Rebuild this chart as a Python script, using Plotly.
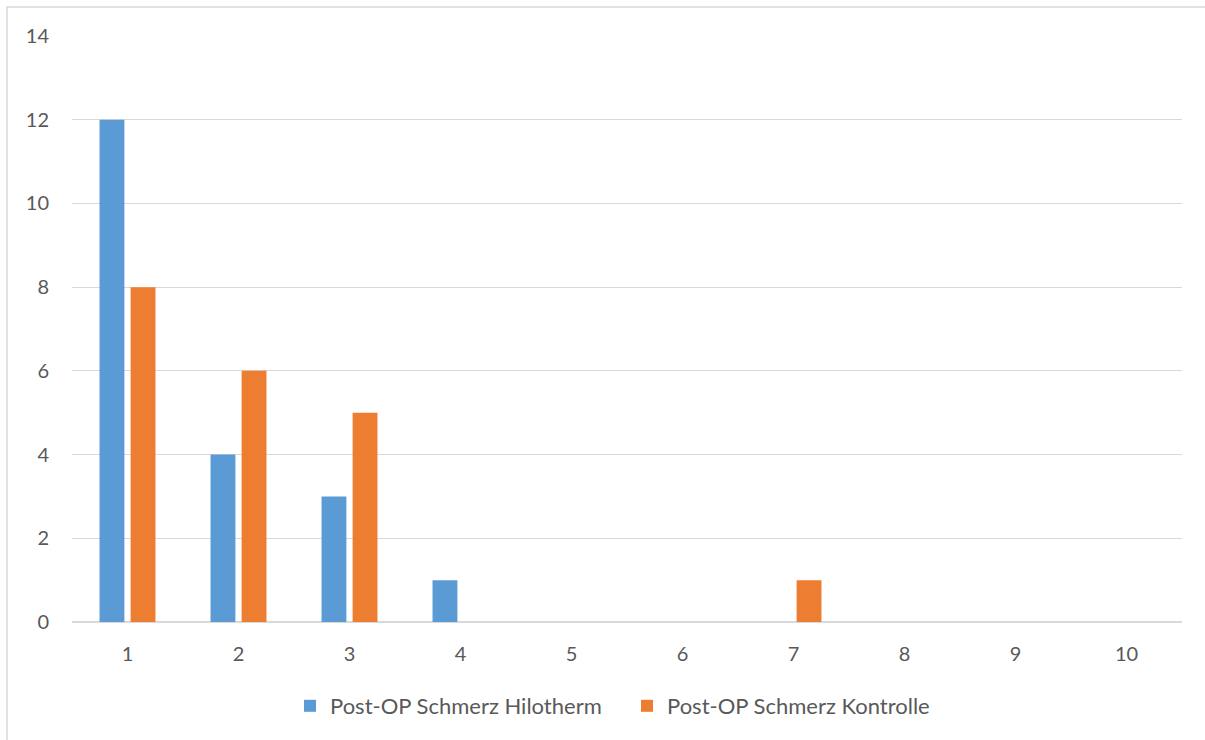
import plotly.graph_objects as go

# Pain score categories and counts per group
categories = ["1", "2", "3", "4", "5", "6", "7", "8", "9", "10"]
hilotherm = [12, 4, 3, 1, 0, 0, 0, 0, 0, 0]
kontrolle = [8, 6, 5, 0, 0, 0, 1, 0, 0, 0]
y_ticks = [0, 2, 4, 6, 8, 10, 12, 14]

BLUE = "#5B9BD5"
ORANGE = "#ED7D31"
TEXT = "#595959"
GRID = "#D9D9D9"
FONT = "Lato, Open Sans, sans-serif"
FS = 20

fig = go.Figure()
fig.add_trace(go.Bar(
    x=categories, y=hilotherm, name="Post-OP Schmerz Hilotherm",
    marker=dict(color=BLUE, line=dict(width=0)),
))
fig.add_trace(go.Bar(
    x=categories, y=kontrolle, name="Post-OP Schmerz Kontrolle",
    marker=dict(color=ORANGE, line=dict(width=0)),
))

L, R, T, B = 72, 23, 36, 118
W, H = 1205, 740
pw, ph = W - L - R, H - T - B

fig.update_layout(
    width=W, height=H,
    margin=dict(l=L, r=R, t=T, b=B),
    paper_bgcolor="white", plot_bgcolor="white",
    barmode="group", bargap=0.44, bargroupgap=0.2,
    font=dict(family=FONT, size=FS, color=TEXT),
    showlegend=True,
    legend=dict(
        orientation="h", x=0.5, xanchor="center",
        y=(-(706 - (H - B)) / ph), yanchor="middle",
        font=dict(family=FONT, size=22, color=TEXT),
        itemwidth=30, entrywidth=292, traceorder="normal",
    ),
    xaxis=dict(
        type="category", showgrid=False, showline=False, zeroline=False,
        ticks="", ticklabelstandoff=18, tickfont=dict(family=FONT, size=FS, color=TEXT),
    ),
    yaxis=dict(
        range=[0, 14], tickvals=y_ticks, showgrid=True, gridcolor=GRID,
        gridwidth=1.3, zeroline=True, zerolinecolor=GRID, zerolinewidth=1.5,
        showline=False, ticks="", ticklabelstandoff=22,
        tickfont=dict(family=FONT, size=FS, color=TEXT),
    ),
    shapes=[dict(
        type="rect", xref="paper", yref="paper",
        x0=(7 - L) / pw, x1=(W + 10 - L) / pw,
        y0=-(H + 10 - (H - B)) / ph, y1=((H - B) - 7) / ph,
        line=dict(color=GRID, width=1.5), fillcolor="rgba(0,0,0,0)",
        layer="below",
    )],
)

fig.write_html("out.html")
